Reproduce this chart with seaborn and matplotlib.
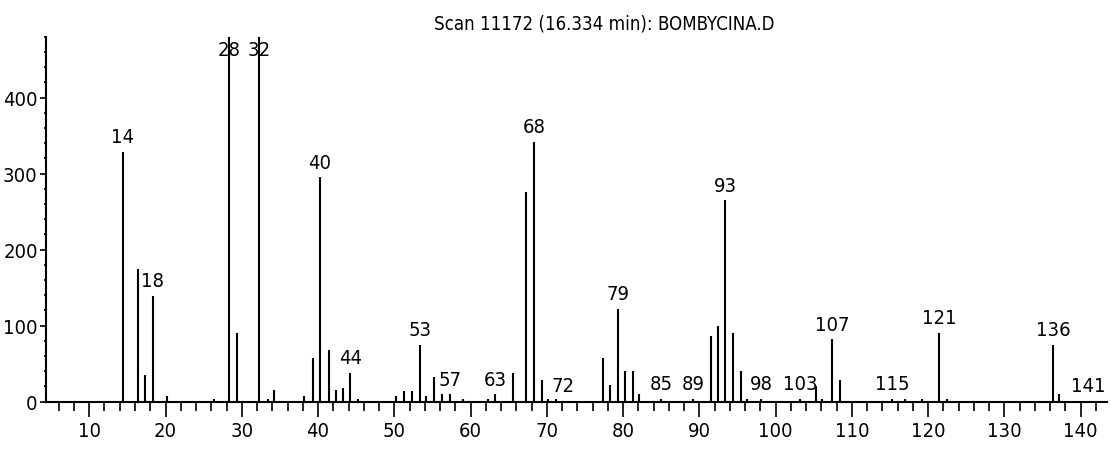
import matplotlib
matplotlib.use("Agg")
import matplotlib.pyplot as plt
from matplotlib import font_manager
from matplotlib.font_manager import FontProperties
from matplotlib.ticker import MultipleLocator
import seaborn as sns
import pandas as pd

# Mass spectrum of one scan: m/z positions and abundances
mz = [14.4, 16.4, 17.3, 18.35, 20.2, 26.3, 28.35, 29.4, 32.3, 33.4, 34.2,
      38.15, 39.4, 40.25, 41.5, 42.3, 43.3, 44.2, 45.2,
      50.2, 51.3, 52.3, 53.4, 54.2, 55.2, 56.3, 57.3, 59.0, 62.3, 63.2,
      65.5, 67.3, 68.3, 69.3, 70.2, 71.2, 72.1,
      77.4, 78.3, 79.3, 80.3, 81.3, 82.1, 85.0, 89.2,
      91.5, 92.4, 93.4, 94.4, 95.5, 96.3, 98.1,
      103.2, 105.3, 106.1, 107.4, 108.4, 115.3, 116.9, 119.25,
      121.4, 122.4, 136.4, 137.2, 141.0]
abundance = [329, 175, 35, 139, 8, 4, 760, 91, 560, 4, 15,
             8, 58, 295, 68, 15, 18, 38, 4,
             8, 14, 14, 75, 7, 32, 10, 10, 4, 4, 10,
             38, 276, 342, 28, 4, 4, 1,
             58, 22, 122, 41, 41, 10, 4, 4,
             86, 99, 265, 91, 41, 4, 4,
             4, 21, 4, 82, 28, 4, 4, 4,
             91, 4, 75, 10, 1]
labelled = [14, 18, 28, 32, 40, 44, 53, 57, 63, 68, 72, 79, 85, 89, 93, 98,
            103, 107, 115, 121, 136, 141]

title = "Scan 11172 (16.334 min): BOMBYCINA.D"
x_ticks = list(range(10, 141, 10))
y_ticks = [0, 100, 200, 300, 400]

spec = pd.DataFrame({"mz": mz, "abundance": abundance})

sns.set_theme(style="ticks")


def pick_narrow_font():
    """Prefer a narrow/condensed sans face, regular weight."""
    entries = font_manager.fontManager.ttflist
    def regular(f):
        return f.weight in (400, "normal", "regular", "book") and f.style == "normal"
    for f in entries:
        if f.name == "Liberation Sans Narrow" and regular(f):
            return f.fname
    for f in entries:
        if ("condensed" in str(f.stretch) or "narrow" in str(f.stretch)) \
                and "extra" not in str(f.stretch) and regular(f):
            return f.fname
    for f in entries:
        if ("Condensed" in f.name or "Narrow" in f.name) and regular(f):
            return f.fname
    for f in entries:
        if f.name == "Liberation Sans" and regular(f):
            return f.fname
    return None


font_file = pick_narrow_font()


def fp(size):
    if font_file:
        return FontProperties(fname=font_file, size=size)
    return FontProperties(size=size)


fig = plt.figure(figsize=(11.11, 4.52), dpi=100)
ax = fig.add_axes([0.0414, 0.1091, 0.9547, 0.8071])
renderer = fig.canvas.get_renderer()


def text_width(s, size):
    t = fig.text(0, 0, s, fontproperties=fp(size))
    w = t.get_window_extent(renderer).width
    t.remove()
    return w


# label size: about 11.5 px per digit; title a little smaller than labels
fs = min(20 * 11.5 / (text_width("0123456789", 20) / 10.0), 18)
fs_title = fs * 0.93

y_top = 480
ax.vlines(spec["mz"], 0, spec["abundance"], color="black", linewidth=1.5)

for m, a in zip(spec["mz"], spec["abundance"]):
    if round(m) not in labelled:
        continue
    txt = f"{round(m)}"
    if a >= y_top:
        ax.annotate(txt, xy=(m, y_top), xytext=(0, -2), textcoords="offset points",
                    ha="center", va="top", fontproperties=fp(fs), color="black")
    else:
        ax.annotate(txt, xy=(m, a), xytext=(0, 4), textcoords="offset points",
                    ha="center", va="bottom", fontproperties=fp(fs), color="black")

ax.set_xlim(4.33, 143.4)
ax.set_ylim(0, y_top)
ax.set_xticks(x_ticks)
ax.set_yticks(y_ticks)
ax.xaxis.set_minor_locator(MultipleLocator(2))
ax.yaxis.set_minor_locator(MultipleLocator(20))
ax.tick_params(axis="x", which="major", direction="out", length=11, width=1.2,
               pad=3, colors="black")
ax.tick_params(axis="x", which="minor", direction="out", length=6.5, width=1.2,
               colors="black")
ax.tick_params(axis="y", which="major", direction="out", length=4.5, width=1.2,
               pad=1.5, colors="black")
ax.tick_params(axis="y", which="minor", direction="out", length=1.8, width=1.2,
               colors="black")
for lab in ax.get_xticklabels() + ax.get_yticklabels():
    lab.set_fontproperties(fp(fs))
sns.despine(ax=ax)
for s in ("left", "bottom"):
    ax.spines[s].set_linewidth(1.5)
    ax.spines[s].set_color("black")
ax.set_xlabel("")
ax.set_ylabel("")
ax.grid(False)

fig.text(0.5436, 0.947, title, ha="center", va="center",
         fontproperties=fp(fs_title), color="black")

fig.savefig("out.png", dpi=100, facecolor="white")
